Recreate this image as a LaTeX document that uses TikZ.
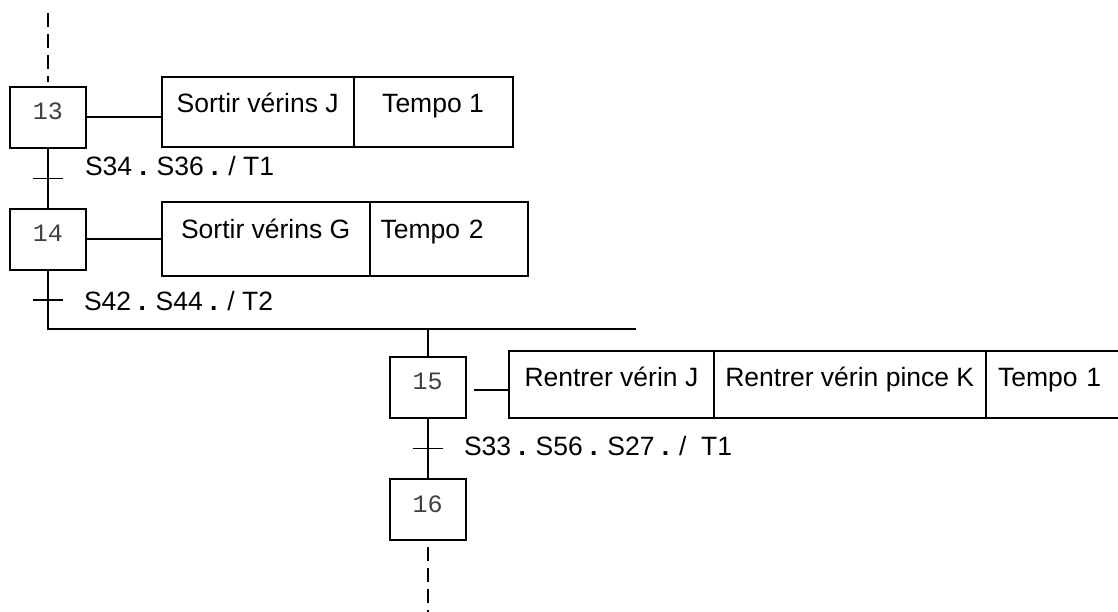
\documentclass[tikz,border=0pt]{standalone}
\usepackage{fontspec}
\setmainfont{Liberation Sans}
\setmonofont{Liberation Mono}
\usetikzlibrary{positioning,calc}

\begin{document}
\begin{tikzpicture}[x=1pt,y=-1pt,line width=2pt,
 etape/.style={draw,minimum width=76pt,minimum height=61pt,inner ysep=0pt,text height=33pt,text depth=28pt,font=\fontsize{25}{25}\selectfont\ttfamily,text=black!75},
 cell/.style={draw,anchor=west,outer sep=0pt,inner ysep=0pt,text height=36pt,font=\fontsize{26.5}{26.5}\selectfont},
 recep/.style={anchor=base west,inner sep=0pt,font=\fontsize{26.5}{26.5}\selectfont},
 tick/.style={line width=1.6pt},
 suite/.style={dash pattern=on 14pt off 7pt}]
\useasboundingbox (0,0) rectangle (1118,612);
\clip (0,0) rectangle (1118,612);
% etapes
\node[etape] (s13) at (48,117.5) {13};
\node[etape] (s14) at (48,239.5) {14};
\node[etape] (s15) at (427.7,387.3) {15};
\node[etape] (s16) at (427.7,509.7) {16};
% actions
\node[cell,text depth=34pt,minimum width=191.8pt] (a13a) at (161.8,111.7) {Sortir vérins J};
\node[cell,text depth=34pt,minimum width=158.9pt,right=0pt of a13a] (a13b) {Tempo 1};
\node[cell,text depth=38pt,minimum width=207.8pt] (a14a) at (161.8,239.2) {Sortir vérins G};
\node[cell,text depth=38pt,align=left,text width=136pt,inner xsep=11pt,right=0pt of a14a] (a14b) {Tempo 2};
\node[cell,text depth=31pt,minimum width=204.2pt] (a15a) at (509.3,384.4) {Rentrer vérin J};
\node[cell,text depth=31pt,minimum width=272.5pt,right=0pt of a15a] (a15b) {Rentrer vérin pince K};
\node[cell,text depth=31pt,align=left,text width=115pt,inner xsep=12pt,right=0pt of a15b] (a15c) {Tempo 1};
% receptivites
\node[recep] (r13) at (84,175.7) {S34 \textbf{.} S36 \textbf{.} / T1};
\node[recep] (r14) at (83,310) {S42 \textbf{.} S44 \textbf{.} / T2};
\node[recep] (r15) at (463,455) {S33 \textbf{.} S56 \textbf{.} S27 \textbf{.} /\ \ T1};
\coordinate (haut) at (48,13);
\coordinate (bas) at (427.7,612);
\coordinate (dg) at (48,329);
\coordinate (dd) at (635.7,329);
\coordinate (t13) at ($(s13.south)!0.5!(s14.north)$);
\coordinate (t14) at ($(s14.south)!0.5!(dg)$);
\coordinate (t15) at ($(s15.south)!0.5!(s16.north)$);
% liaisons
\draw[suite,shorten >=4pt] (haut) -- (s13.north);
\draw (s13.east) -- (s13.east -| a13a.west);
\draw (s14.east) -- (s14.east -| a14a.west);
\draw[shorten <=7pt] ([yshift=-3pt]s15.east) -- ([yshift=-3pt]s15.east -| a15a.west);
\draw (s13.south) -- (s14.north);
\draw (s14.south) -- (dg) -- (dd);
\draw (s15.north |- dg) -- (s15.north);
\draw (s15.south) -- (s16.north);
\draw[suite,shorten <=6pt] (s16.south) -- (bas);
\draw[tick] ([xshift=-15pt]t13) -- ([xshift=15pt]t13);
\draw[tick] ([xshift=-15pt]t14) -- ([xshift=15pt]t14);
\draw[tick] ([xshift=-15pt]t15) -- ([xshift=15pt]t15);
\end{tikzpicture}
\end{document}
